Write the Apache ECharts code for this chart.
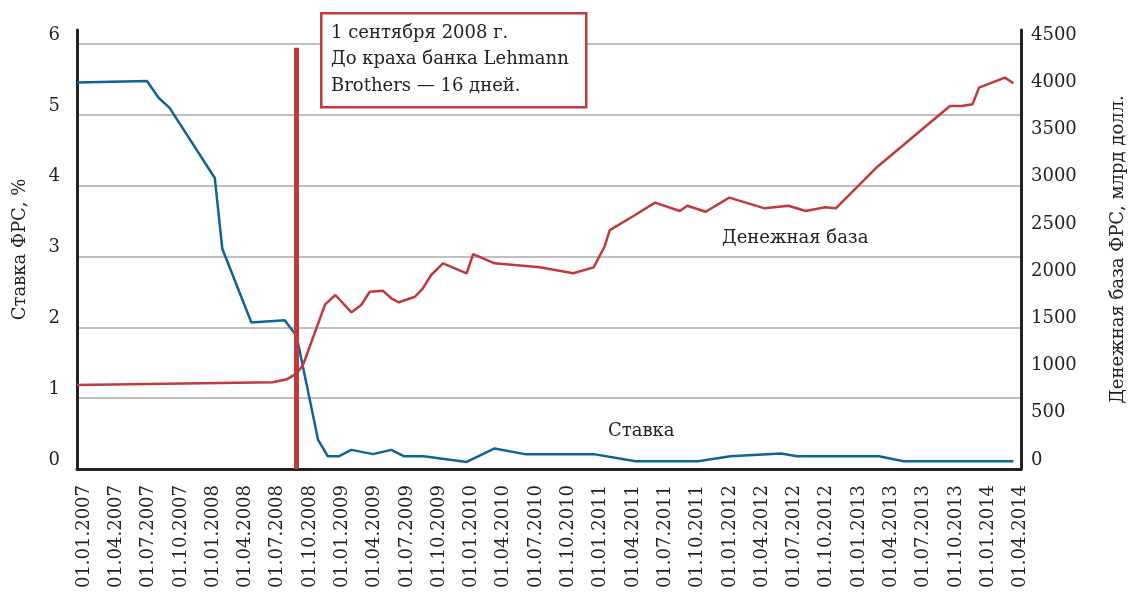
<!DOCTYPE html>
<html>
<head>
    <meta charset="utf-8">
    <script src="https://cdn.jsdelivr.net/npm/echarts@6/dist/echarts.min.js"></script>
    <style>
        html, body {
            margin: 0;
            padding: 0;
            background: #fff;
        }

        #chart {
            width: 1135px;
            height: 598px;
        }
    </style>
</head>
<body>
<div id="chart"></div>
<script>
    // подписи оси X (кварталы)
    const quarterLabels = [
        '01.01.2007', '01.04.2007', '01.07.2007', '01.10.2007',
        '01.01.2008', '01.04.2008', '01.07.2008', '01.10.2008',
        '01.01.2009', '01.04.2009', '01.07.2009', '01.10.2009',
        '01.01.2010', '01.04.2010', '01.07.2010', '01.10.2010',
        '01.01.2011', '01.04.2011', '01.07.2011', '01.10.2011',
        '01.01.2012', '01.04.2012', '01.07.2012', '01.10.2012',
        '01.01.2013', '01.04.2013', '01.07.2013', '01.10.2013',
        '01.01.2014', '01.04.2014'
    ]

    // ставка ФРС, % (месяцы от 01.01.2007)
    const rateMonths = [0, 6.5, 7.6, 8.6, 12.8, 13.5, 16.2, 19.3, 20.4, 22.4, 23.3, 24.3, 25.5, 27.5, 29.2, 30.4,
        32.2, 36.2, 38.8, 41.6, 48, 51.9, 57.7, 60.7, 65.4, 66.9, 74.5, 76.8, 87]
    const rateValues = [5.46, 5.48, 5.24, 5.10, 4.11, 3.11, 2.07, 2.10, 1.88, 0.41, 0.18, 0.18, 0.27, 0.21, 0.27, 0.18,
        0.18, 0.10, 0.29, 0.21, 0.21, 0.11, 0.11, 0.18, 0.22, 0.18, 0.18, 0.11, 0.11]

    // денежная база ФРС, млрд долл.
    const baseMonths = [0, 18.2, 19.5, 20.4, 21, 23.05, 24, 25.5, 26.4, 27.2, 28.4, 29.2, 29.9, 31.4, 32.1, 32.9,
        34, 36.2, 36.8, 38.8, 43, 46.1, 48, 49, 49.5, 51.7, 53.7, 56, 56.7, 58.4, 60.6, 63.9, 65.2, 66.1, 67.7,
        69.5, 70.5, 74.2, 81.1, 82.2, 83.2, 83.8, 86.2, 87]
    const baseValues = [890, 918, 950, 1013, 1102, 1744, 1843, 1660, 1737, 1878, 1889, 1808, 1766, 1825, 1907, 2055,
        2179, 2073, 2277, 2179, 2136, 2073, 2136, 2354, 2531, 2680, 2821, 2733, 2789, 2725, 2874, 2761, 2778, 2789, 2733,
        2772, 2761, 3185, 3845, 3845, 3863, 4040, 4146, 4086]

    // 1 сентября 2008 г.
    const crisisMonth = 20.4

    const font = 'DejaVu Serif'
    const red = '#c1393c'
    const blue = '#0f6497'

    const chart = echarts.init(document.getElementById('chart'))

    chart.setOption({
        animation: false,
        textStyle: {fontFamily: font},
        grid: {
            left: 77,
            right: 114,
            top: 30,
            bottom: 129
        },
        xAxis: {
            type: 'value',
            min: 0,
            max: 87.7,
            interval: 3,
            axisLine: {show: true, lineStyle: {color: '#222', width: 3}},
            axisTick: {show: false},
            splitLine: {show: false},
            axisLabel: {
                rotate: 90,
                fontSize: 18,
                color: '#222',
                margin: 16,
                // подписи стоят чуть правее отметок
                verticalAlign: 'top',
                lineHeight: 14,
                showMaxLabel: false,
                formatter: v => quarterLabels[Math.round(v / 3)] || ''
            }
        },
        yAxis: [
            {
                type: 'value',
                min: 0,
                max: 6.2,
                interval: 1,
                name: 'Ставка ФРС, %',
                nameLocation: 'middle',
                nameRotate: 90,
                nameGap: 48,
                nameTextStyle: {fontSize: 18, color: '#222'},
                axisLine: {show: true, lineStyle: {color: '#222', width: 3}},
                axisTick: {show: false},
                axisLabel: {
                    fontSize: 18,
                    color: '#222',
                    margin: 17,
                    verticalAlign: 'bottom',
                    showMaxLabel: false
                },
                splitLine: {
                    show: true,
                    showMinLine: false,
                    showMaxLine: false,
                    lineStyle: {color: '#aaa', width: 1.5}
                }
            },
            {
                type: 'value',
                position: 'right',
                min: 0,
                max: 4650,
                interval: 500,
                name: 'Денежная база ФРС, млрд долл.',
                nameLocation: 'middle',
                nameRotate: 90,
                nameGap: 88,
                nameTextStyle: {fontSize: 18, color: '#222'},
                axisLine: {show: true, lineStyle: {color: '#222', width: 3}},
                axisTick: {show: false},
                axisLabel: {
                    fontSize: 18,
                    color: '#222',
                    margin: 10,
                    verticalAlign: 'bottom',
                    showMaxLabel: false,
                    formatter: v => String(v)
                },
                splitLine: {show: false}
            }
        ],
        series: [
            {
                name: 'Ставка',
                type: 'line',
                yAxisIndex: 0,
                symbol: 'none',
                data: rateMonths.map((m, i) => [m, rateValues[i]]),
                lineStyle: {color: blue, width: 2.5},
                markLine: {
                    silent: true,
                    symbol: 'none',
                    label: {show: false},
                    lineStyle: {color: red, width: 5, type: 'solid'},
                    data: [
                        [{coord: [crisisMonth, 0]}, {coord: [crisisMonth, 5.95]}]
                    ]
                }
            },
            {
                name: 'Денежная база',
                type: 'line',
                yAxisIndex: 1,
                symbol: 'none',
                data: baseMonths.map((m, i) => [m, baseValues[i]]),
                lineStyle: {color: red, width: 2.5}
            }
        ],
        graphic: [
            {
                type: 'rect',
                left: 320,
                top: 12,
                shape: {width: 265, height: 94},
                style: {fill: '#fff', stroke: red, lineWidth: 2.5},
                z: 100
            },
            {
                type: 'text',
                left: 331,
                top: 20,
                style: {
                    text: '1 сентября 2008 г.\nДо краха банка Lehmann\nBrothers — 16 дней.',
                    font: '18px "DejaVu Serif"',
                    lineHeight: 26.5,
                    fill: '#222'
                },
                z: 101
            },
            {
                type: 'text',
                left: 722,
                top: 229,
                style: {text: 'Денежная база', font: '18px "DejaVu Serif"', fill: '#222'},
                z: 101
            },
            {
                type: 'text',
                left: 608,
                top: 422,
                style: {text: 'Ставка', font: '18px "DejaVu Serif"', fill: '#222'},
                z: 101
            }
        ]
    })
</script>
</body>
</html>
